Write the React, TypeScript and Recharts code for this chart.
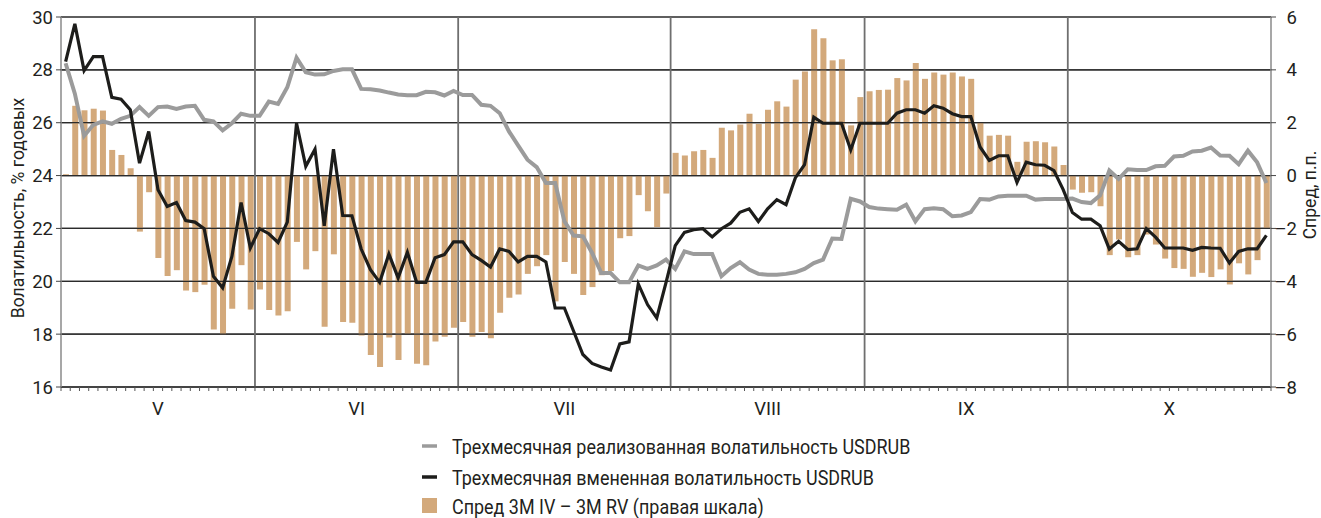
import React from 'react';
import { ComposedChart, Bar, Line, XAxis, YAxis, CartesianGrid, ReferenceLine } from 'recharts';

// Months (Roman numerals) and number of trading days in each
const monthLabels = ['V', 'VI', 'VII', 'VIII', 'IX', 'X'];
const monthDays = [21, 22, 23, 21, 22, 22];

// 3M realized volatility USDRUB, % (left axis)
const realizedVol = [
  28.25, 27.1, 25.5, 25.92, 26.05, 25.96, 26.15, 26.26, 26.59, 26.26,
  26.59, 26.61, 26.52, 26.61, 26.64, 26.11, 26.05, 25.71, 25.98, 26.34,
  26.26, 26.26, 26.8, 26.71, 27.34, 28.46, 27.91, 27.82, 27.83, 27.96,
  28.02, 28.02, 27.28, 27.27, 27.22, 27.14, 27.07, 27.04, 27.04, 27.17,
  27.15, 27.03, 27.2, 27.05, 27.05, 26.68, 26.64, 26.36, 25.67, 25.13,
  24.6, 24.32, 23.72, 23.72, 22.27, 21.73, 21.7, 21.07, 20.31, 20.31,
  19.96, 19.96, 20.6, 20.47, 20.6, 20.82, 20.47, 21.13, 21.03, 21.03,
  21.03, 20.19, 20.5, 20.72, 20.44, 20.28, 20.25, 20.25, 20.28, 20.34,
  20.47, 20.69, 20.82, 21.62, 21.6, 23.12, 23.02, 22.81, 22.75, 22.73,
  22.71, 22.9, 22.27, 22.73, 22.76, 22.73, 22.46, 22.49, 22.62, 23.11,
  23.09, 23.21, 23.24, 23.24, 23.24, 23.09, 23.11, 23.11, 23.11, 23.13,
  23.0, 22.96, 23.25, 24.19, 23.87, 24.24, 24.21, 24.21, 24.35, 24.37,
  24.72, 24.75, 24.91, 24.94, 25.06, 24.76, 24.75, 24.43, 24.94, 24.5,
  23.72,
];

// 3M implied volatility USDRUB, % (left axis)
const impliedVol = [
  28.31, 29.74, 27.97, 28.5, 28.5, 26.96, 26.89, 26.49, 24.47, 25.67,
  23.46, 22.83, 22.98, 22.3, 22.24, 21.99, 20.19, 19.75, 20.94, 22.98,
  21.26, 21.99, 21.8, 21.47, 22.24, 25.98, 24.35, 25.0, 22.1, 25.0,
  22.49, 22.48, 21.22, 20.44, 19.96, 21.03, 20.13, 21.1, 19.96, 19.96,
  20.89, 21.01, 21.49, 21.49, 21.01, 20.79, 20.54, 21.23, 21.13, 20.73,
  20.94, 20.94, 20.73, 18.99, 18.99, 18.11, 17.23, 16.89, 16.76, 16.64,
  17.63, 17.71, 19.9, 19.12, 18.61, 19.95, 21.35, 21.85, 21.95, 21.99,
  21.68, 21.99, 22.2, 22.61, 22.74, 22.26, 22.74, 23.09, 22.9, 23.91,
  24.41, 26.21, 25.98, 25.98, 25.98, 24.97, 25.98, 25.98, 25.98, 25.98,
  26.36, 26.49, 26.49, 26.36, 26.64, 26.55, 26.34, 26.23, 26.23, 25.08,
  24.57, 24.75, 24.75, 23.74, 24.51, 24.41, 24.39, 24.19, 23.47, 22.6,
  22.35, 22.35, 22.1, 21.22, 21.51, 21.2, 21.23, 21.99, 21.67, 21.26,
  21.26, 21.26, 21.17, 21.28, 21.26, 21.25, 20.69, 21.13, 21.23, 21.23,
  21.74,
];

// Spread 3M IV - 3M RV, p.p. (right axis)
const spreadIvRv = [
  0.05, 2.64, 2.47, 2.53, 2.46, 0.97, 0.78, 0.28, -2.12, -0.63,
  -3.12, -3.8, -3.58, -4.35, -4.41, -4.13, -5.82, -6.01, -5.04, -3.39,
  -5.07, -4.31, -5.09, -5.29, -5.13, -2.51, -3.55, -2.86, -5.72, -2.98,
  -5.54, -5.57, -6.05, -6.79, -7.24, -6.13, -6.98, -5.99, -7.12, -7.18,
  -6.28, -6.1, -5.76, -5.54, -6.1, -5.92, -6.16, -5.19, -4.62, -4.5,
  -3.72, -3.43, -3.01, -4.76, -3.27, -3.72, -4.52, -4.22, -3.77, -3.61,
  -2.37, -2.29, -0.74, -1.35, -1.95, -0.68, 0.86, 0.76, 0.92, 0.97,
  0.67, 1.81, 1.71, 1.93, 2.34, 1.95, 2.49, 2.81, 2.61, 3.63,
  3.94, 5.54, 5.2, 4.36, 4.4, 1.9, 2.97, 3.19, 3.24, 3.25,
  3.69, 3.6, 4.26, 3.66, 3.9, 3.82, 3.9, 3.75, 3.66, 1.99,
  1.51, 1.54, 1.51, 0.52, 1.28, 1.3, 1.26, 1.1, 0.4, -0.53,
  -0.65, -0.63, -1.16, -3.01, -2.42, -3.09, -3.01, -2.23, -2.61, -3.14,
  -3.5, -3.53, -3.83, -3.68, -3.84, -3.55, -4.12, -3.32, -3.74, -3.2,
  -1.98,
];

const leftTicks = [16, 18, 20, 22, 24, 26, 28, 30];
const rightTicks = [-8, -6, -4, -2, 0, 2, 4, 6];

const nameRv = 'Трехмесячная реализованная волатильность USDRUB';
const nameIv = 'Трехмесячная вмененная волатильность USDRUB';
const nameSpread = 'Спред 3M IV – 3M RV (правая шкала)';
const leftTitle = 'Волатильность, % годовых';
const rightTitle = 'Спред, п.п.';

const RV_COLOR = '#9b9b9b';
const IV_COLOR = '#1d1d1b';
const BAR_COLOR = '#d3a97b';
const TEXT = '#231f20';
const FONT = 'Roboto, "Liberation Sans", sans-serif';

const data = realizedVol.map((v, i) => ({
  i,
  rv: v,
  iv: impliedVol[i],
  spread: spreadIvRv[i],
}));

// month boundaries and centres in index units
const monthStarts = monthDays.map((_, k) => monthDays.slice(0, k).reduce((a, b) => a + b, 0));
const total = monthDays.reduce((a, b) => a + b, 0);
const monthCenters = monthStarts.map((s, k) => s + (monthDays[k] - 1) / 2);
const monthBounds = monthStarts.slice(1).map((s) => s - 0.5);
const dayTicks = Array.from({ length: total + 1 }, (_, k) => k - 0.5);
// one axis carries both the small day ticks and the month names
const xTicks = Array.from(new Set([...dayTicks, ...monthCenters])).sort((a, b) => a - b);

// x tick: short mark on day boundaries, month name under month centres
const DayMonthTick = (props: any) => {
  const { x, y, payload } = props;
  const v = payload.value as number;
  const isBound = Math.abs(v - Math.round(v)) > 0.25;
  const m = monthCenters.indexOf(v);
  return (
    <g>
      {isBound && <line x1={x} x2={x} y1={y} y2={y + 4} stroke="#555" strokeWidth={1} />}
      {m >= 0 && (
        <text x={x} y={y + 28} textAnchor="middle" fill={TEXT} fontSize={18.5} fontFamily={FONT}>
          {monthLabels[m]}
        </text>
      )}
    </g>
  );
};

const RightTick = (props: any) => {
  const { x, y, payload } = props;
  const label = String(payload.value).replace('-', '–');
  return (
    <text x={x + 19} y={y} dy="0.355em" textAnchor="end" fill={TEXT} fontSize={18.5} fontFamily={FONT}>
      {label}
    </text>
  );
};

// legend rows drawn slightly condensed, like the source typeface
const legendRows = [
  { name: nameRv, kind: 'line', color: RV_COLOR, y: 454 },
  { name: nameIv, kind: 'line', color: IV_COLOR, y: 485 },
  { name: nameSpread, kind: 'rect', color: BAR_COLOR, y: 514 },
];

export default function App() {
  return (
    <div style={{ position: 'absolute', left: 0, top: 0, width: 1321, height: 518, background: '#fff', fontFamily: FONT }}>
      <ComposedChart
        width={1321}
        height={430}
        data={data}
        margin={{ top: 17, right: 0, bottom: 0, left: 0 }}
      >
        <CartesianGrid xAxisId="x" yAxisId="l" vertical={false} stroke="#2b2b2b" strokeWidth={1.2} />
        <XAxis
          xAxisId="x"
          type="number"
          dataKey="i"
          domain={[-0.5, total - 0.5]}
          ticks={xTicks}
          interval={0}
          tickSize={0}
          tickMargin={0}
          tickLine={false}
          height={43}
          stroke="#2b2b2b"
          tick={<DayMonthTick />}
        />
        <YAxis
          yAxisId="l"
          orientation="left"
          domain={[16, 30]}
          ticks={leftTicks}
          interval={0}
          width={61}
          tickSize={5}
          tickMargin={3}
          axisLine={{ stroke: '#8a8a8a', strokeWidth: 1.5 }}
          tickLine={{ stroke: '#444' }}
          tick={{ fill: TEXT, fontSize: 18.5, fontFamily: FONT }}
        />
        <YAxis
          yAxisId="r"
          orientation="right"
          domain={[-8, 6]}
          ticks={rightTicks}
          interval={0}
          width={50}
          tickSize={5}
          tickMargin={2}
          axisLine={{ stroke: '#8a8a8a', strokeWidth: 1.5 }}
          tickLine={{ stroke: '#444' }}
          tick={<RightTick />}
        />
        <Bar
          xAxisId="x"
          yAxisId="r"
          dataKey="spread"
          name={nameSpread}
          fill={BAR_COLOR}
          barSize={6}
          isAnimationActive={false}
        />
        {leftTicks.map((t) => (
          <ReferenceLine key={t} xAxisId="x" yAxisId="l" y={t} stroke="#2b2b2b" strokeWidth={1.2} />
        ))}
        {monthBounds.map((b) => (
          <ReferenceLine key={b} xAxisId="x" yAxisId="l" x={b} stroke="#6f6f6f" strokeWidth={1.8} />
        ))}
        <Line
          xAxisId="x"
          yAxisId="l"
          type="linear"
          dataKey="rv"
          name={nameRv}
          stroke={RV_COLOR}
          strokeWidth={4}
          dot={false}
          isAnimationActive={false}
        />
        <Line
          xAxisId="x"
          yAxisId="l"
          type="linear"
          dataKey="iv"
          name={nameIv}
          stroke={IV_COLOR}
          strokeWidth={3.2}
          dot={false}
          isAnimationActive={false}
        />
      </ComposedChart>
      <svg width={1321} height={518} style={{ position: 'absolute', left: 0, top: 0, pointerEvents: 'none' }}>
        <text
          transform="translate(24 208) rotate(-90) scale(0.95 1)"
          textAnchor="middle"
          fill={TEXT}
          fontSize={18.5}
          fontFamily={FONT}
        >
          {leftTitle}
        </text>
        <text
          transform="translate(1316 195) rotate(-90) scale(0.95 1)"
          textAnchor="middle"
          fill={TEXT}
          fontSize={18.5}
          fontFamily={FONT}
        >
          {rightTitle}
        </text>
        {legendRows.map((r) => (
          <g key={r.name}>
            {r.kind === 'line' ? (
              <line x1={422} x2={437} y1={r.y - 8} y2={r.y - 8} stroke={r.color} strokeWidth={3.5} />
            ) : (
              <rect x={422} y={r.y - 16} width={15} height={15} fill={r.color} />
            )}
            <text
              transform={`translate(452 ${r.y}) scale(0.92 1)`}
              fill={TEXT}
              fontSize={19.5}
              fontFamily={FONT}
            >
              {r.name}
            </text>
          </g>
        ))}
      </svg>
    </div>
  );
}
